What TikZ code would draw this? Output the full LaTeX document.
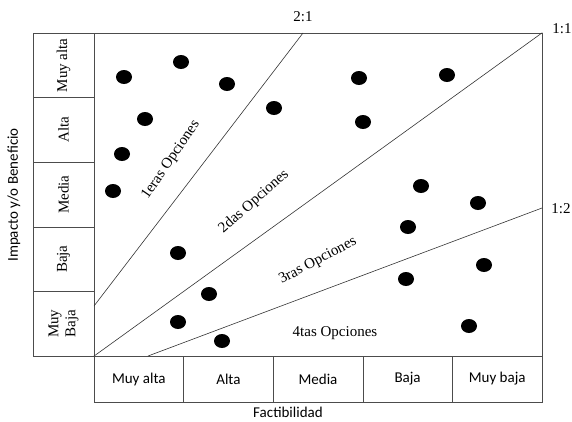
\documentclass[tikz,border=0pt]{standalone}
\usepackage{fontspec}
\setmainfont{Liberation Serif}
\setsansfont{Carlito}
\usetikzlibrary{shapes.geometric, calc}

\begin{document}
\begin{tikzpicture}[
    x=1pt, y=-1pt,
    cell/.style={draw=black!70, line width=0.6pt, inner sep=0pt},
    rowcell/.style={cell, rotate=90, minimum width=64.6pt, minimum height=61pt,
      align=center, font=\fontsize{15}{17}\selectfont},
    colcell/.style={cell, minimum width=89.6pt, minimum height=46pt,
      font=\sffamily\fontsize{15}{17}\selectfont},
    ratio/.style={black!80, line width=0.6pt},
    ratiolbl/.style={font=\fontsize{15}{17}\selectfont, inner sep=0pt},
    zone/.style={font=\fontsize{15}{17}\selectfont, inner sep=0pt},
    axislbl/.style={font=\sffamily\fontsize{15}{17}\selectfont, inner sep=0pt},
    dot/.style={ellipse, fill=black, inner sep=0pt, minimum width=16pt, minimum height=14pt},
  ]
    \useasboundingbox (0,0) rectangle (572,421);

    % main field
    \node[cell, minimum width=448pt, minimum height=323pt] (plot) at (318,194.5) {};

    % impacto rows
    \node[rowcell] (imp1) at (63.5,65.3) {Muy alta};
    \node[rowcell] (imp2) at (63.5,129.9) {Alta};
    \node[rowcell] (imp3) at (63.5,194.5) {Media};
    \node[rowcell] (imp4) at (63.5,259.1) {Baja};
    \node[rowcell] (imp5) at (63.5,323.7) {Muy\\Baja};

    % factibilidad columns
    \node[colcell] (fac1) at (138.8,379) {Muy alta};
    \node[colcell] (fac2) at (228.4,379) {Alta};
    \node[colcell] (fac3) at (318,379) {Media};
    \node[colcell] (fac4) at (407.6,379) {Baja};
    \node[colcell] (fac5) at (497.2,379) {Muy baja};

    \node[axislbl, rotate=90] (ylbl) at (14,195) {Impacto y/o Beneficio};
    \node[axislbl] (xlbl) at (288,412) {Factibilidad};

    % ratio lines
    \coordinate (r21a) at (94,306);
    \coordinate (r21b) at (303,33);
    \coordinate (r12a) at (148,356);
    \coordinate (r12b) at (542,208);
    \draw[ratio] (r21a) -- (r21b);
    \draw[ratio] (plot.south west) -- (plot.north east);
    \draw[ratio] (r12a) -- (r12b);

    \node[ratiolbl] (l21) at (303,17) {2:1};
    \node[ratiolbl] (l11) at (562,29) {1:1};
    \node[ratiolbl] (l12) at (561,209) {1:2};

    % zones
    \node[zone, rotate=55.6] (z1) at (171,160) {1eras Opciones};
    \node[zone, rotate=41.4] (z2) at (254,202) {2das Opciones};
    \node[zone, rotate=27.7] (z3) at (318,261) {3ras Opciones};
    \node[zone] (z4) at (335,333) {4tas Opciones};

    % options
    \foreach \px/\py [count=\k] in {124/77, 181/62, 227/84, 274/108, 145/119,
        122/154, 113/191, 359/78, 447/75, 363/122, 421/186, 478/203, 408/227,
        484/265, 406/279, 178/253, 209/294, 178/322, 222/341, 469/326}
      \node[dot] (d\k) at (\px,\py) {};
  \end{tikzpicture}
\end{document}
